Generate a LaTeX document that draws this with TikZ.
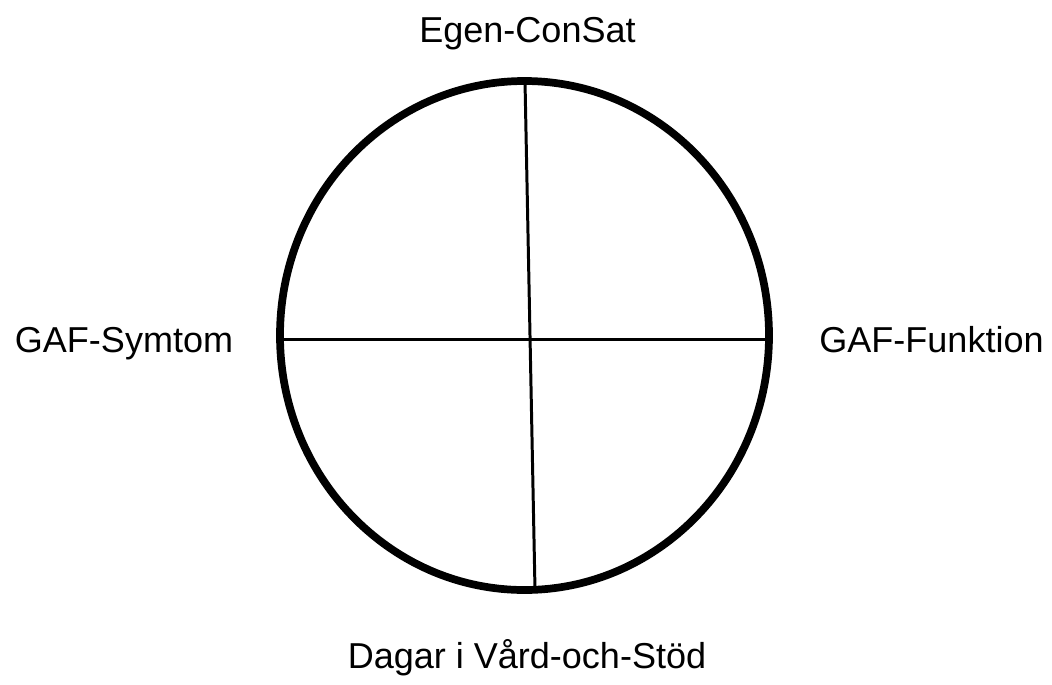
\documentclass[tikz,border=0pt]{standalone}
\usepackage{fontspec}
\setmainfont{Liberation Sans}
\usetikzlibrary{positioning}

\begin{document}
\begin{tikzpicture}[
  x=0.02cm, y=-0.02cm,
  axis/.style={line width=1.7pt, draw=black},
  rim/.style={line width=4.4pt, draw=black},
  label/.style={font=\fontsize{20.5}{24}\selectfont, inner sep=0pt, anchor=base}
]
\useasboundingbox (0,0) rectangle (1052,684);

% Cercle principal
\draw[rim] (524.5,335.5) ellipse [x radius=244.5, y radius=254.5];

% Extrémités des axes
\coordinate (top) at (525,81);
\coordinate (bottom) at (535,590);
\coordinate (left) at (280,339);
\coordinate (right) at (769,339);

% Axes
\draw[axis] (top) -- (bottom);
\draw[axis] (left) -- (right);

% Étiquettes
\node[label] (egen) at (527.5,42) {Egen-ConSat};
\node[label] (symtom) at (124,352) {GAF-Symtom};
\node[label] (funktion) at (931.5,352) {GAF-Funktion};
\node[label] (dagar) at (527,668) {Dagar i Vård-och-Stöd};
\end{tikzpicture}
\end{document}
